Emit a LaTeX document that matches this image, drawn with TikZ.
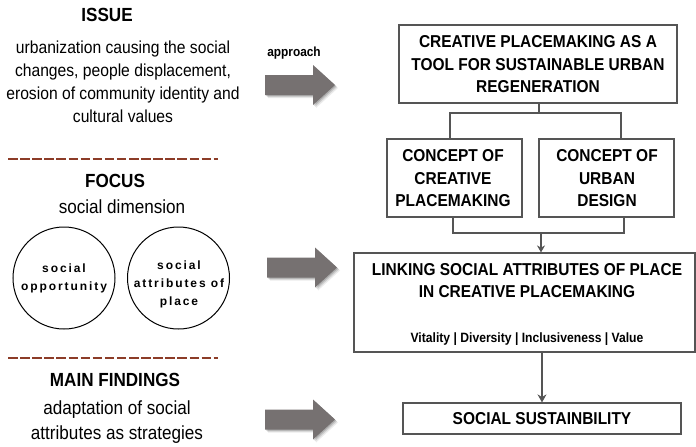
\documentclass[tikz,border=0pt]{standalone}
\usepackage{fontspec}
\setmainfont{Liberation Sans}[FakeStretch=0.9]
\newfontfamily\plainfont{Liberation Sans}
\usetikzlibrary{arrows.meta}
\definecolor{boxline}{RGB}{85,85,85}
\definecolor{arrowfill}{RGB}{118,113,113}
\definecolor{dashcol}{RGB}{140,60,40}
\newcommand{\bx}[2]{\fontsize{#1}{#2}\selectfont}
\tikzset{
  x=1pt,y=-1pt,
  boxnode/.style={draw=boxline,line width=1.2pt,fill=white,align=center,inner sep=0pt},
  boxtext/.style={align=center,inner sep=0pt,font=\bx{17.2}{22.5}\bfseries},
  conn/.style={draw=boxline,line width=2.2pt},
  heading/.style={align=center,inner sep=0pt,font=\bx{19}{20}\bfseries},
  body/.style={align=center,inner sep=0pt,font=\bx{17.4}{23}},
  bodybig/.style={align=center,inner sep=0pt,font=\bx{19}{25}},
  circ/.style={draw=black,line width=1pt,circle,minimum size=102pt,inner sep=0pt},
  circtext/.style={align=center,inner sep=0pt,font=\plainfont\bx{12}{18}\bfseries\addfontfeatures{LetterSpace=16}},
  dashline/.style={draw=dashcol,line width=2.5pt,dash pattern=on 9.5pt off 2.6pt},
  bigarrow/.pic={
    \foreach \o/\a in {3/.08,2/.12,1/.16}{
      \fill[black,opacity=\a,xshift=\o pt,yshift=-\o pt]
        (-35,-10) -- (13,-10) -- (13,-20) -- (35,0) -- (13,20) -- (13,10) -- (-35,10) -- cycle;}
    \fill[arrowfill] (-35,-10) -- (13,-10) -- (13,-20) -- (35,0) -- (13,20) -- (13,10) -- (-35,10) -- cycle;
  }
}
\begin{document}
\begin{tikzpicture}
\useasboundingbox (0,0) rectangle (696,447);
% left column
\node[heading] (issue) at (107,15) {ISSUE};
\node[body] (issuetext) at (123,81.5) {urbanization causing the social\\changes, people displacement,\\erosion of community identity and\\cultural values};
\coordinate (d1a) at (8,159); \coordinate (d1b) at (218,159);
\draw[dashline] (d1a) -- (d1b);
\node[heading] (focus) at (115,181) {FOCUS};
\node[bodybig] (focustext) at (122,207) {social dimension};
\node[circ] (c1) at (64,278) {};
\node[circtext] (c1t) at (64,278) {social\\opportunity};
\node[circ] (c2) at (178.5,278) {};
\node[circtext] (c2t) at (179,284) {social\\attributes of\\place};
\coordinate (d2a) at (8,358); \coordinate (d2b) at (218,358);
\draw[dashline] (d2a) -- (d2b);
\node[heading] (findings) at (115,380) {MAIN FINDINGS};
\node[bodybig] (findingstext) at (117,422.5) {adaptation of social\\attributes as strategies};
% arrows
\node[font=\bx{13.2}{14}\bfseries,inner sep=0pt] (approach) at (294,53) {approach};
\pic (a1) at (300,85) {bigarrow};
\pic (a2) at (302,267.5) {bigarrow};
\pic (a3) at (300,419.5) {bigarrow};
% right column
\node[boxnode,minimum width=278pt,minimum height=78pt] (top) at (538,64) {};
\node[boxtext] (toptext) at (538,64.5) {CREATIVE PLACEMAKING AS A\\TOOL FOR SUSTAINABLE URBAN\\REGENERATION};
\node[boxnode,minimum width=135pt,minimum height=78pt] (cc) at (454.5,178) {};
\node[boxtext] (cct) at (453,178.5) {CONCEPT OF\\CREATIVE\\PLACEMAKING};
\node[boxnode,minimum width=135pt,minimum height=78pt] (cu) at (606.5,178) {};
\node[boxtext] (cut) at (607,178.5) {CONCEPT OF\\URBAN\\DESIGN};
\node[boxnode,minimum width=341pt,minimum height=99pt] (link) at (524.5,302.5) {};
\node[boxtext] (linktext) at (527,280.5) {LINKING SOCIAL ATTRIBUTES OF PLACE\\IN CREATIVE PLACEMAKING};
\node[font=\bx{13.5}{14}\bfseries,inner sep=0pt] (attrs) at (527,339) {Vitality | Diversity | Inclusiveness | Value};
\node[boxnode,minimum width=278pt,minimum height=31pt] (ss) at (542,418.5) {};
\node[boxtext] (sst) at (542,419) {SOCIAL SUSTAINBILITY};
% connectors
\coordinate (j1) at (539,113);
\coordinate (j2) at (541,233);
\coordinate (j3) at (542,352);
\coordinate (ct1) at (450,139); \coordinate (ct2) at (621,139);
\coordinate (cb1) at (453,217); \coordinate (cb2) at (624,217);
\draw[conn] (top.south-|j1) -- (j1);
\draw[conn] (ct1) |- (j1) -| (ct2);
\draw[conn] (cb1) |- (j2) -| (cb2);
\draw[conn,-{Stealth[length=7pt,width=8pt]}] (j2) -- (link.north-|j2);
\draw[conn,-{Stealth[length=8pt,width=9pt]}] (j3) -- (ss.north-|j3);
\end{tikzpicture}
\end{document}
